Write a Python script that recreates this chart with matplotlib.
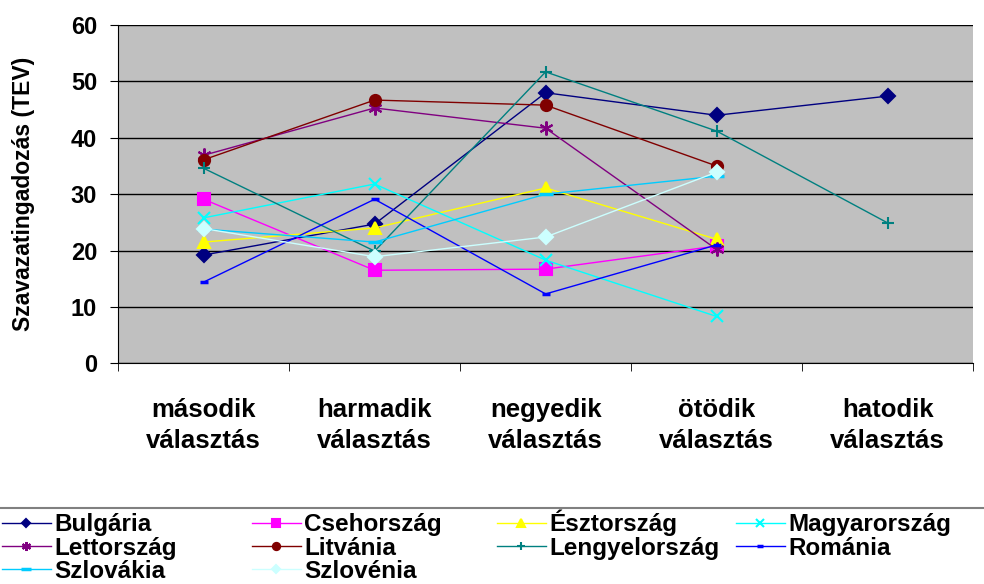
import matplotlib.pyplot as plt
from matplotlib.lines import Line2D
import numpy as np

plt.rcParams['font.family'] = ['Liberation Sans', 'DejaVu Sans']

categories = ['második\nválasztás', 'harmadik\nválasztás', 'negyedik\nválasztás',
              'ötödik\nválasztás', 'hatodik\nválasztás']

bulgaria = [19.2, 24.7, 48.0, 44.0, 47.4]
csehorszag = [29.1, 16.5, 16.7, 20.8]
esztorszag = [21.5, 24.0, 31.1, 22.0]
magyarorszag = [25.8, 31.8, 18.3, 8.3]
lettorszag = [36.9, 45.3, 41.7, 20.2]
litvania = [36.1, 46.7, 45.8, 35.0]
lengyelorszag = [34.6, 19.9, 51.7, 41.2, 24.9]
romania = [14.4, 29.1, 12.3, 21.0]
szlovakia = [23.8, 21.5, 30.0, 33.2]
szlovenia = [23.9, 18.9, 22.4, 33.9]

# legend order, row by row (4 per row)
series = [
    ('Bulgária', bulgaria, '#000080', 'D', 7),
    ('Csehország', csehorszag, '#FF00FF', 's', 8),
    ('Észtország', esztorszag, '#FFFF00', '^', 9),
    ('Magyarország', magyarorszag, '#00FFFF', 'x', 8),
    ('Lettország', lettorszag, '#800080', (6, 2, 0), 10),
    ('Litvánia', litvania, '#800000', 'o', 8),
    ('Lengyelország', lengyelorszag, '#008080', '+', 9),
    ('Románia', romania, '#0000FF', '_', 6),
    ('Szlovákia', szlovakia, '#00CCFF', '_', 10),
    ('Szlovénia', szlovenia, '#CCFFFF', 'D', 7),
]
legend_x = [0.002, 0.256, 0.505, 0.748]
legend_y = [0.082, 0.0415, 0.002]

fig = plt.figure(figsize=(9.84, 5.84), dpi=100)
ax = fig.add_axes([0.12, 0.378, 0.869, 0.579])
ax.set_facecolor('#C0C0C0')

x = np.arange(len(categories))
handles = []
for name, vals, col, mk, ms in series:
    mew = 2.5 if mk == '_' else 1.5
    h, = ax.plot(x[:len(vals)], vals, color=col, marker=mk, markersize=ms,
                 markeredgewidth=mew, linewidth=1, label=name)
    handles.append(h)

ax.set_xlim(-0.5, len(categories) - 0.5)
ax.set_ylim(0, 60)
ax.set_yticks(range(0, 61, 10))
ax.yaxis.grid(True, color='black', linewidth=1)
ax.set_axisbelow(True)
for s in ['top', 'right']:
    ax.spines[s].set_visible(False)

ax.set_xticks(x)
ax.set_xticklabels(categories, fontsize=18.5, fontweight='bold', linespacing=1.35)
ax.set_xticks(np.arange(-0.5, len(categories), 1), minor=True)
ax.tick_params(axis='x', which='major', length=0, pad=25)
ax.tick_params(axis='x', which='minor', length=6, direction='out')
ax.tick_params(axis='y', length=6, direction='out', labelsize=17, pad=9)
for lbl in ax.get_yticklabels():
    lbl.set_fontweight('bold')
ax.set_ylabel('Szavazatingadozás (TEV)', fontsize=16.5, fontweight='bold', labelpad=26)

fig.add_artist(Line2D([0, 1], [0.13, 0.13], color='#808080', linewidth=1.5))
# one legend per entry, bottom-anchored so all baselines in a row line up
for i, h in enumerate(handles):
    row, col = divmod(i, 4)
    leg = fig.legend(handles=[h], loc='lower left',
                     bbox_to_anchor=(legend_x[col], legend_y[row]),
                     frameon=False, prop={'size': 17.5, 'weight': 'bold'},
                     handlelength=2.0, handletextpad=0.15,
                     borderaxespad=0, borderpad=0, markerscale=0.65)

fig.savefig('out.png', dpi=100)
